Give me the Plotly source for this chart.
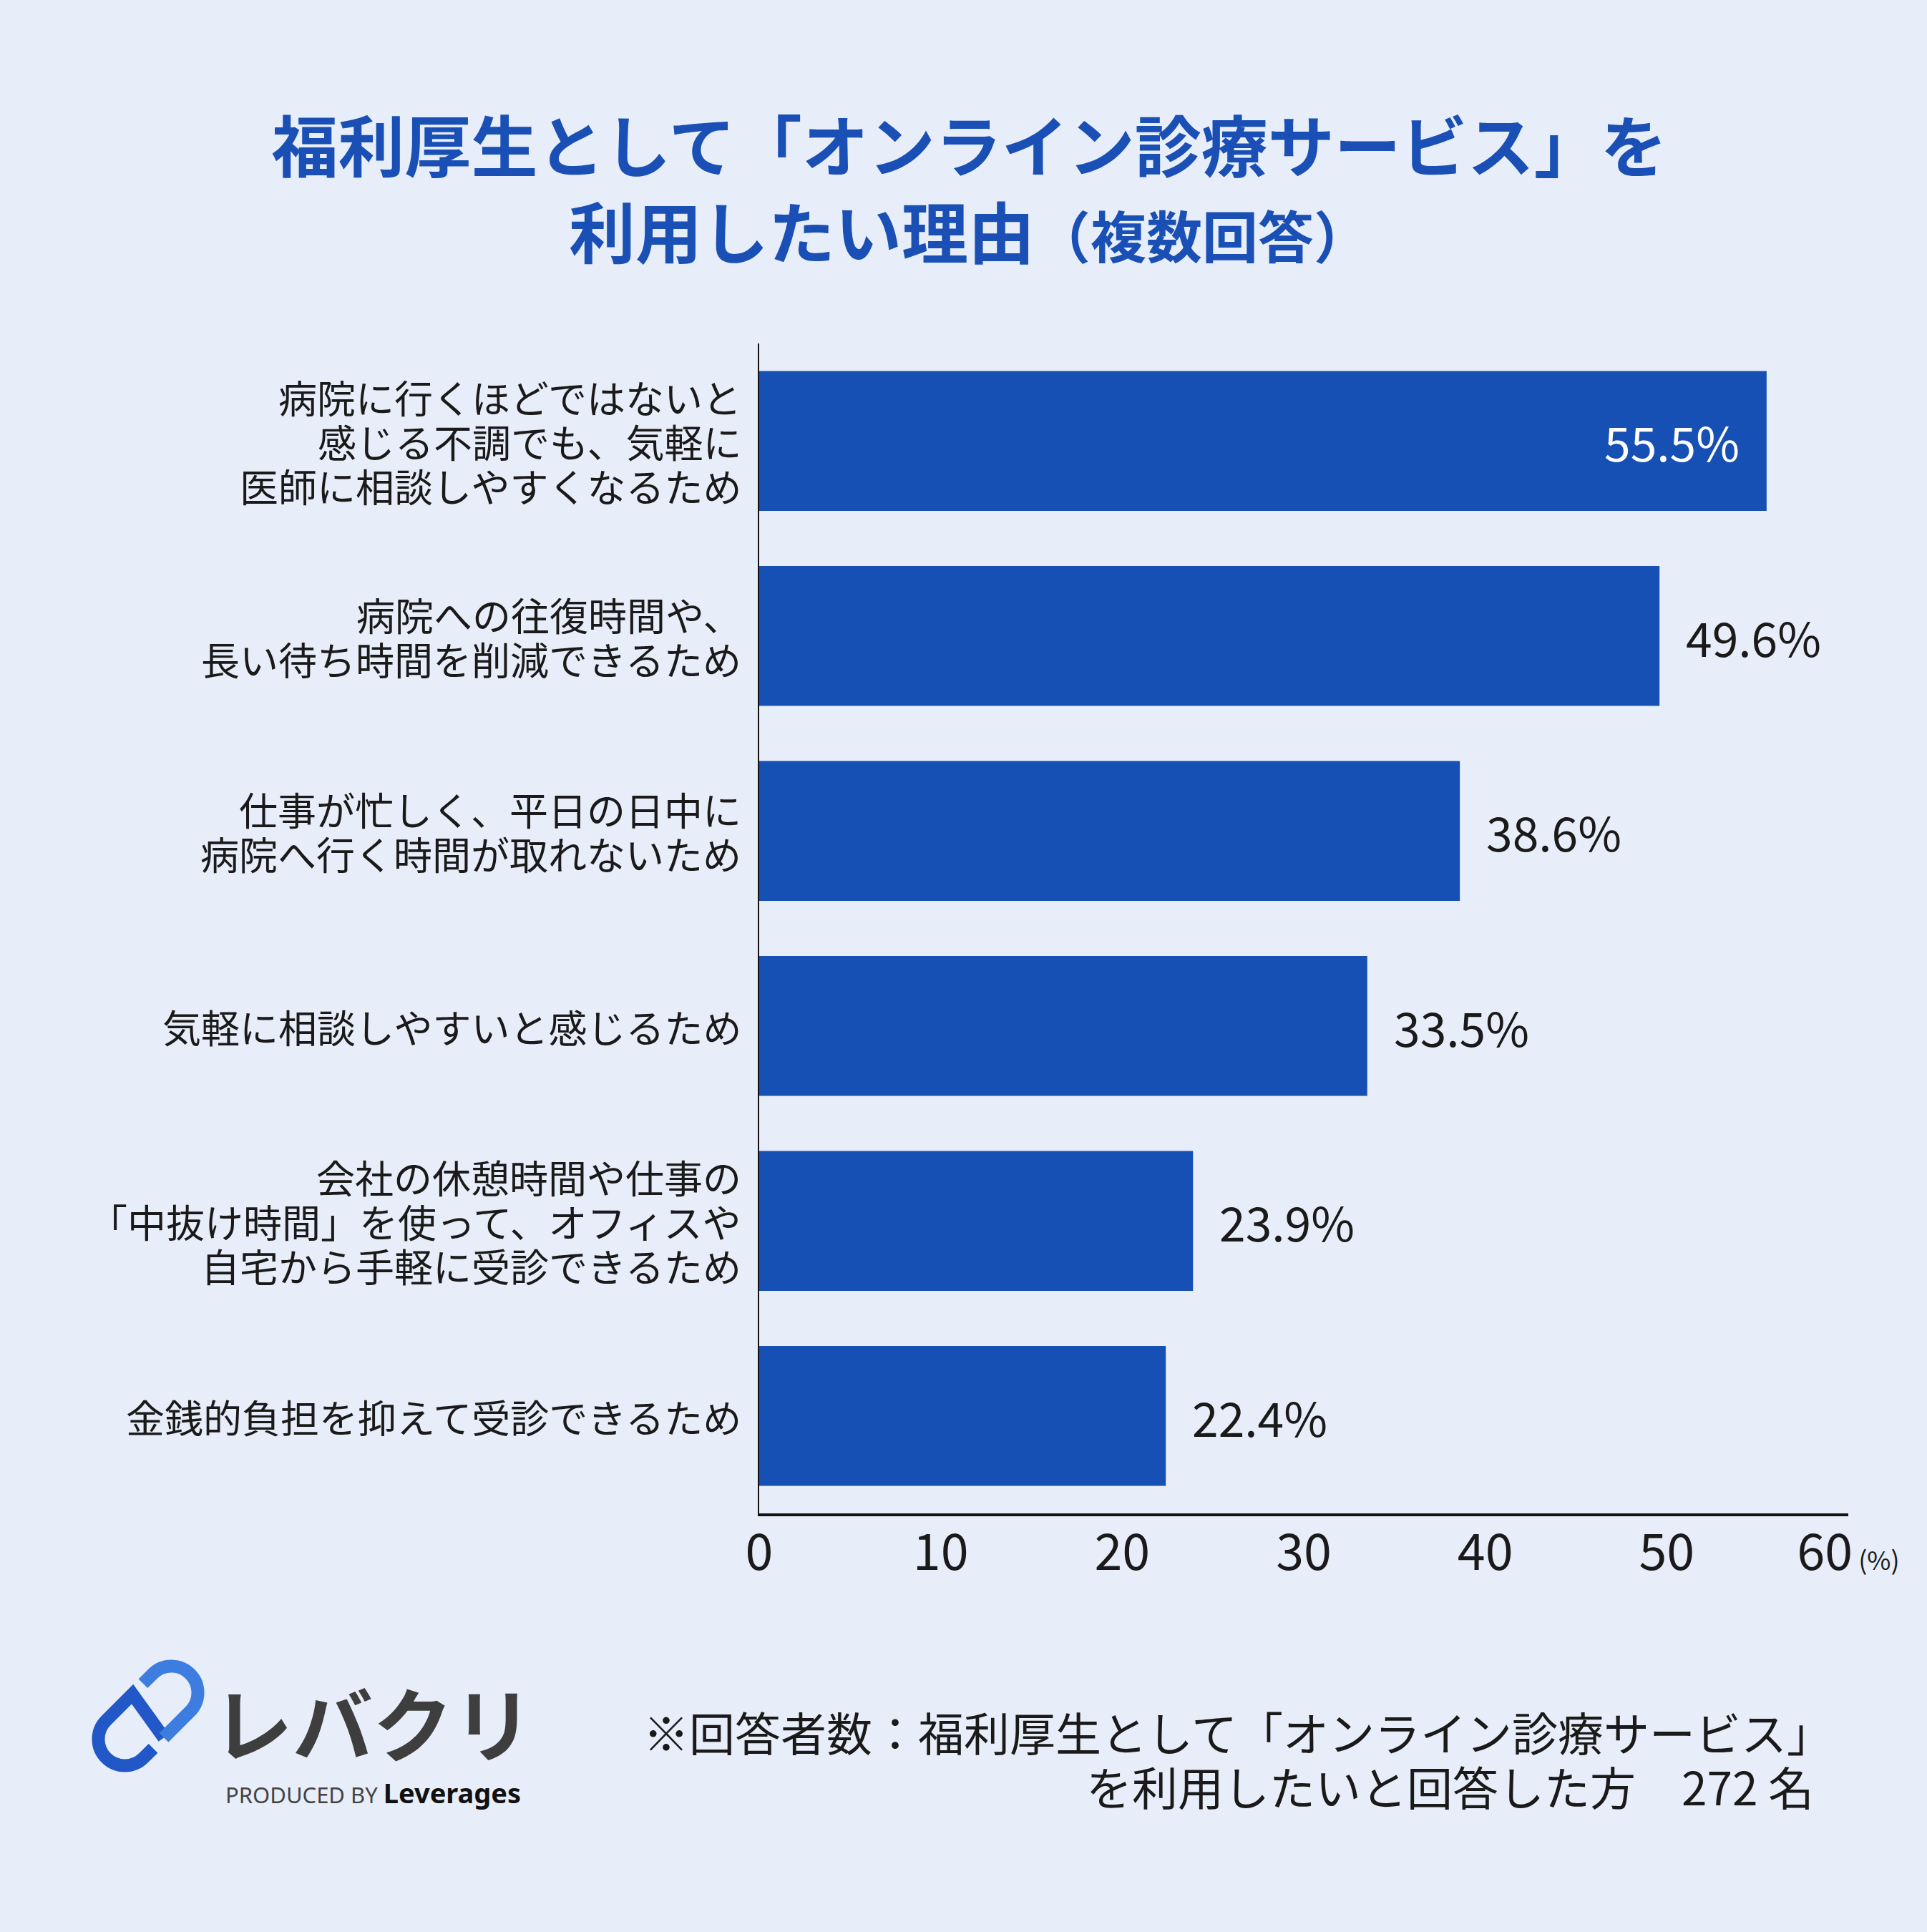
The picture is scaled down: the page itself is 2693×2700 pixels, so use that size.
import math
import plotly.graph_objects as go

# ---- data ----
categories = [
    "病院に行くほどではないと<br>感じる不調でも、気軽に<br>医師に相談しやすくなるため",
    "病院への往復時間や、<br>長い待ち時間を削減できるため",
    "仕事が忙しく、平日の日中に<br>病院へ行く時間が取れないため",
    "気軽に相談しやすいと感じるため",
    "会社の休憩時間や仕事の<br>「中抜け時間」を使って、オフィスや<br>自宅から手軽に受診できるため",
    "金銭的負担を抑えて受診できるため",
]
values = [55.5, 49.6, 38.6, 33.5, 23.9, 22.4]
x_ticks = [0, 10, 20, 30, 40, 50, 60]
x_unit = "(%)"

title_line1 = "福利厚生として「オンライン診療サービス」を"
title_line2 = "利用したい理由"
title_sub = "（複数回答）"
note_lines = ["※回答者数：福利厚生として「オンライン診療サービス」",
              "を利用したいと回答した方　272 名"]

# ---- style ----
W, H = 2693, 2700
L, R, T, B = 1061, 110, 480, 585
BG = "#E8EEF9"
BAR = "#1750B4"
TITLE_BLUE = "#1A50B6"
TXT = "#1A1A1A"
FONT = "Noto Sans CJK JP"
LABEL_SIZE = 54
LABEL_LINE = 62

def px2paper(X, Y):
    pw = W - L - R
    ph = H - T - B
    return (X - L) / pw, (H - B - Y) / ph

fig = go.Figure()
fig.add_trace(go.Bar(
    x=values, y=categories, orientation="h",
    marker=dict(color=BAR, line=dict(width=0)),
    hoverinfo="skip",
))

# category labels (one annotation per line, tight line spacing)
for c in categories:
    lines = c.split("<br>")
    n = len(lines)
    for i, ln in enumerate(lines):
        fig.add_annotation(
            x=0, y=c, xref="x", yref="y", showarrow=False,
            text=ln, xanchor="right", yanchor="middle", align="right",
            height=LABEL_LINE - 4, borderpad=0,
            xshift=-24, yshift=((n - 1) / 2 - i) * LABEL_LINE,
            font=dict(family=FONT, size=LABEL_SIZE, color=TXT),
        )

# value labels
for v, c in zip(values, categories):
    inside = v > 50
    fig.add_annotation(
        x=v, y=c, xref="x", yref="y", showarrow=False,
        text=f"{v:.1f}%",
        xanchor="right" if inside else "left",
        xshift=-36 if inside else 35,
        yanchor="middle",
        font=dict(family=FONT, size=66, color="white" if inside else TXT),
    )

# footnote (two right-aligned lines)
note_pos = [(2562, 2419), (2536, 2495)]
for ln, (xx, yy) in zip(note_lines, note_pos):
    nx, ny = px2paper(xx, yy)
    fig.add_annotation(
        x=nx, y=ny, xref="paper", yref="paper", showarrow=False,
        text=ln, xanchor="right", yanchor="middle", align="right",
        height=72, borderpad=0,
        font=dict(family=FONT, size=64, color=TXT),
    )

# logo text
lx, ly = px2paper(521, 2405)
fig.add_annotation(
    x=lx, y=ly, xref="paper", yref="paper", showarrow=False,
    text="レバクリ", xanchor="center", yanchor="middle",
    height=116, borderpad=0,
    font=dict(family=FONT, size=112, color="#3E3E3E", weight="bold"),
)
px_, py_ = px2paper(521, 2505)
fig.add_annotation(
    x=px_, y=py_, xref="paper", yref="paper", showarrow=False,
    text="<span style='font-size:31px;color:#444444'>PRODUCED BY </span>"
         "<b><span style='font-size:38px;color:#111111'>Leverages</span></b>",
    xanchor="center", yanchor="middle", borderpad=0,
    font=dict(family="Noto Sans", size=31, color="#444444"),
)

# logo icon (two half-capsules joined by a diagonal)
cx, cy = 207, 2398
s2 = math.sqrt(2)
def ab(a, b):
    X = cx + (a + b) / s2
    Y = cy + (b - a) / s2
    return px2paper(X, Y)

k = 0.5523
r = 37
def p(a, b):
    return "%.5f,%.5f" % ab(a, b)
def path_upper():
    ac = 46
    d = "M " + p(27, -r) + " L " + p(ac, -r)
    d += " C " + p(ac + k * r, -r) + " " + p(ac + r, -k * r) + " " + p(ac + r, 0)
    d += " C " + p(ac + r, k * r) + " " + p(ac + k * r, r) + " " + p(ac, r)
    d += " L " + p(-6, r)
    return d
def path_lower():
    ac = -46
    d = "M " + p(-6, r) + " L " + p(6, -r) + " L " + p(ac, -r)
    d += " C " + p(ac - k * r, -r) + " " + p(ac - r, -k * r) + " " + p(ac - r, 0)
    d += " C " + p(ac - r, k * r) + " " + p(ac - k * r, r) + " " + p(ac, r)
    d += " L " + p(-27, r)
    return d

fig.add_shape(type="path", xref="paper", yref="paper", path=path_lower(),
              line=dict(color="#2157C6", width=18), layer="above")
fig.add_shape(type="path", xref="paper", yref="paper", path=path_upper(),
              line=dict(color="#3D7DE0", width=18), layer="above")

tick_text = [str(t) for t in x_ticks]
tick_text[-1] = tick_text[-1] + "<span style='font-size:36px'> " + x_unit + "</span>"

fig.update_layout(
    width=W, height=H,
    paper_bgcolor=BG, plot_bgcolor=BG,
    margin=dict(l=L, r=R, t=T, b=B, autoexpand=False),
    showlegend=False,
    bargap=0.283,
    title=dict(
        text=title_line1 + "<br>" + title_line2 +
             "<span style='font-size:78px'>" + title_sub + "</span>",
        x=0.503, xref="container", xanchor="center",
        y=1 - 240 / H, yref="container", yanchor="middle",
        font=dict(family=FONT, size=93, color=TITLE_BLUE, weight="bold"),
    ),
    xaxis=dict(
        range=[0, 60], tickvals=x_ticks, ticktext=tick_text,
        showgrid=False, zeroline=False,
        showline=True, linecolor="#111111", linewidth=4,
        ticks="", ticklabelstandoff=-9,
        tickfont=dict(family=FONT, size=70, color=TXT),
        fixedrange=True,
    ),
    yaxis=dict(
        categoryorder="array", categoryarray=categories,
        autorange="reversed",
        showgrid=False, zeroline=False,
        showline=True, linecolor="#111111", linewidth=2,
        ticks="", showticklabels=False,
        fixedrange=True,
    ),
)

fig.write_html(
    "out.html",
    config={"displayModeBar": False},
    post_script="document.body.style.margin='0';document.body.style.background='%s';" % BG,
)
